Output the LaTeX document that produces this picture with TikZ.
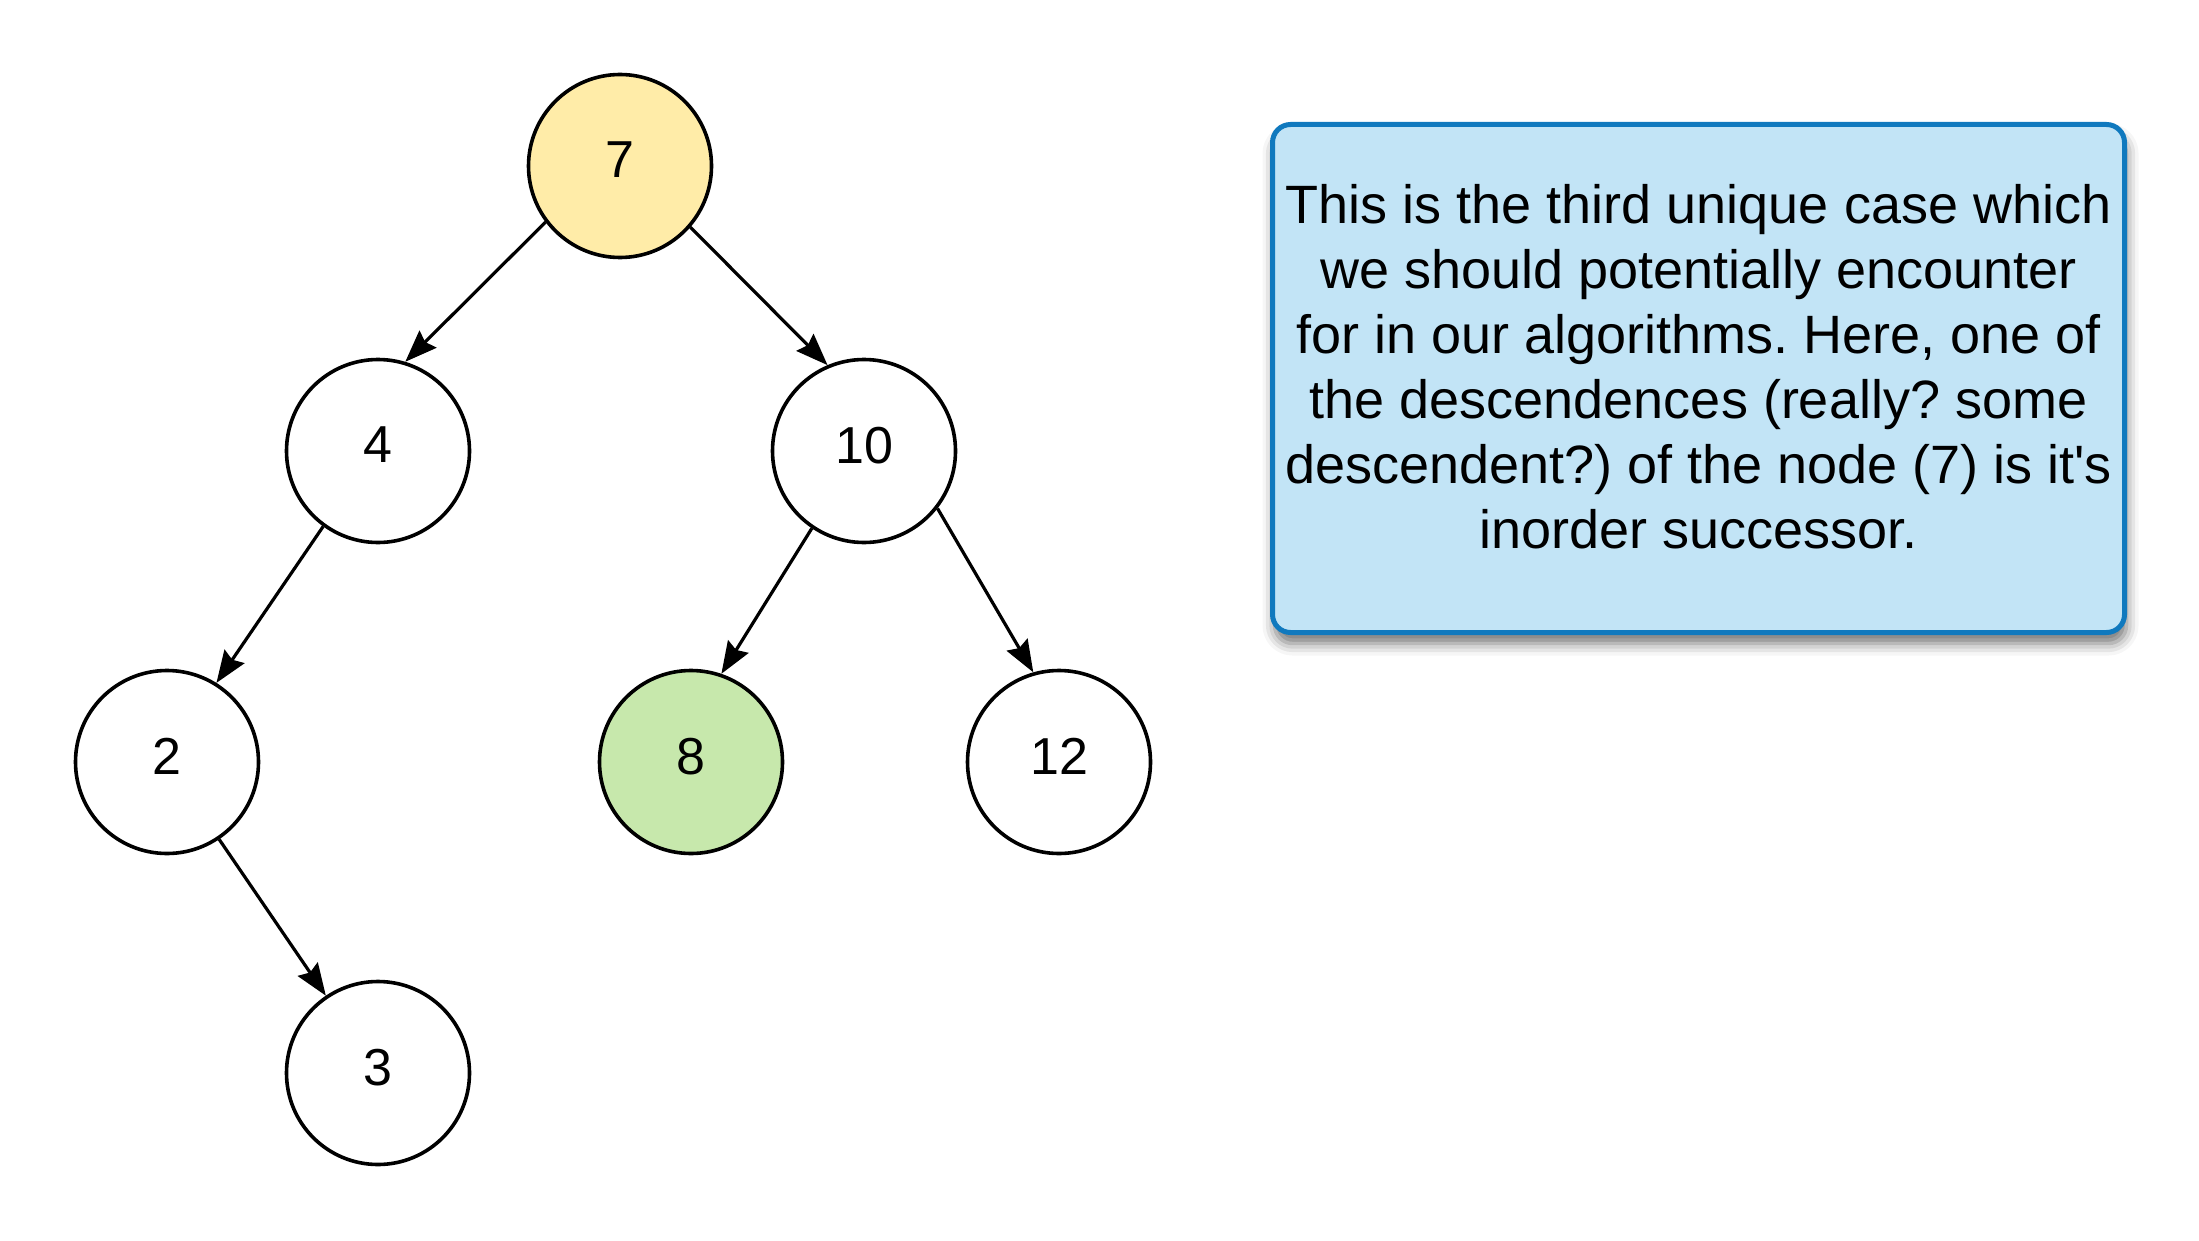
\documentclass[tikz,border=0pt]{standalone}
\usepackage{fontspec}
\setmainfont{Liberation Sans}
\usetikzlibrary{arrows.meta,shadows.blur}
\definecolor{rootfill}{RGB}{255,236,168}
\definecolor{succfill}{RGB}{199,232,172}
\definecolor{notefill}{RGB}{194,228,246}
\definecolor{noteline}{RGB}{16,121,190}
\tikzset{
  treenode/.style={circle,draw=black,line width=3.6pt,fill=white,minimum size=183pt,inner sep=0pt,
    font=\fontsize{52}{62}\selectfont,text depth=12pt},
  edgearrow/.style={draw=black,line width=3.2pt,-{Stealth[length=32pt,width=24pt,inset=4pt]}},
  notebox/.style={draw=noteline,line width=5pt,fill=notefill,rounded corners=18pt,
    minimum width=852pt,minimum height=508pt,inner sep=0pt,
    blur shadow={shadow xshift=2pt,shadow yshift=-11pt,shadow blur radius=12pt,shadow opacity=55}},
  notetext/.style={align=center,inner sep=0pt,font=\fontsize{54}{65}\selectfont\frenchspacing}
}
\begin{document}
\begin{tikzpicture}[x=1pt,y=-1pt]
\useasboundingbox (0,0) rectangle (2199,1241);
\node[treenode,fill=rootfill] (n7) at (620,166) {7};
\node[treenode] (n4) at (378,451) {4};
\node[treenode] (n10) at (864,451) {10};
\node[treenode] (n2) at (167,762) {2};
\node[treenode,fill=succfill] (n8) at (691,762) {8};
\node[treenode] (n12) at (1059,762) {12};
\node[treenode] (n3) at (378,1073) {3};
\draw[edgearrow] (n7.217) -- (n4.73);
\draw[edgearrow] (n7.319) -- (n10.113);
\draw[edgearrow] (n4.234) -- (n2.58);
\draw[edgearrow] (n10.236) -- (n8.71);
\draw[edgearrow] (n10.322) -- (n12.106);
\draw[edgearrow] (n2.304) -- (n3.124);
\node[notebox] (note) at (1698.5,378.5) {};
\node[notetext] (notetxt) at (1698.5,367) {This is the third unique case which\\we should potentially encounter\\for in our algorithms. Here, one of\\the descendences (really? some\\descendent?) of the node (7) is it\textquotesingle s\\inorder successor.};
\end{tikzpicture}
\end{document}
